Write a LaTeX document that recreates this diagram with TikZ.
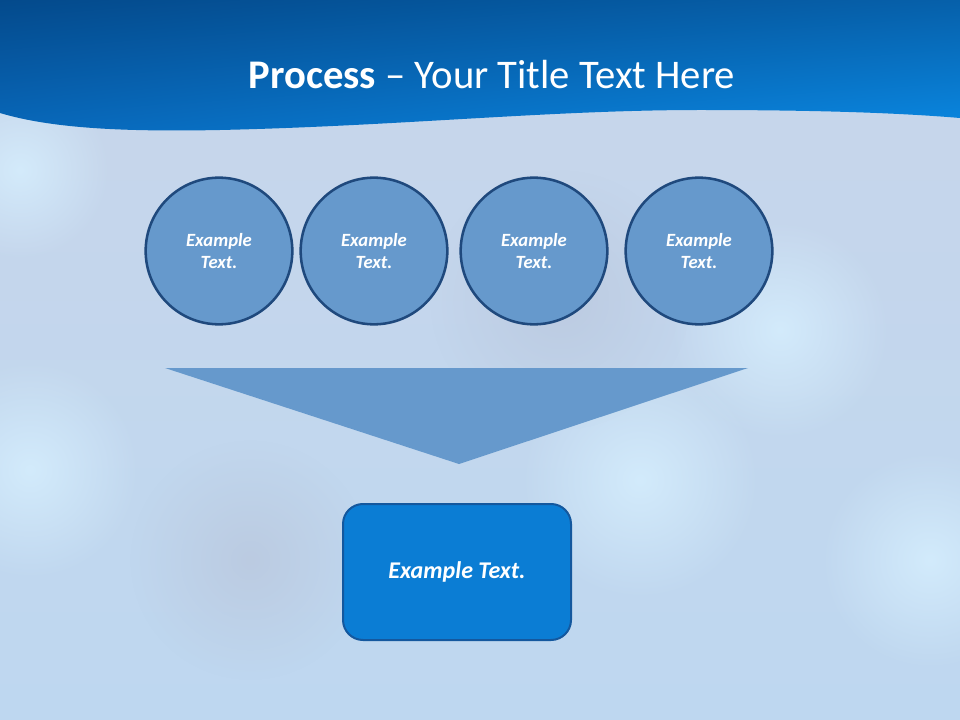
\documentclass[tikz,border=0pt]{standalone}
\usepackage{fontspec}
\setmainfont{Carlito}
\usetikzlibrary{fadings,shadings}

\definecolor{stepfill}{RGB}{102,153,204}
\definecolor{stepline}{RGB}{31,73,125}
\definecolor{resfill}{RGB}{11,125,212}
\definecolor{resline}{RGB}{20,88,158}
\definecolor{papertop}{RGB}{200,214,234}
\definecolor{paperbot}{RGB}{190,215,240}
\definecolor{glowlight}{RGB}{215,240,255}
\definecolor{glowgrey}{RGB}{186,200,222}
\definecolor{bandul}{RGB}{4,74,140}
\definecolor{bandur}{RGB}{6,96,170}
\definecolor{bandll}{RGB}{8,104,186}
\definecolor{bandlr}{RGB}{10,136,226}

\tikzset{every picture/.style={line width=0.75pt}}
\tikzset{
  stage/.style={circle, draw=stepline, line width=1.9pt, fill=stepfill, minimum size=110pt, inner sep=0pt,
    align=center, text=white, font=\fontsize{14}{17}\selectfont\bfseries\itshape},
  result/.style={rectangle, rounded corners=15pt, draw=resline, line width=1.5pt, fill=resfill,
    minimum width=171pt, minimum height=102pt, text=white, font=\fontsize{18}{22}\selectfont\bfseries\itshape},
  blob/.style={path fading=glow, fill=#1}
}
\tikzfading[name=glow, inner color=transparent!20, outer color=transparent!100]

\begin{document}
\begin{tikzpicture}[x=0.75pt,y=0.75pt,yscale=-1,xscale=1]
\path[use as bounding box] (0,0) rectangle (960,720);

%Background
\shade [top color=papertop, bottom color=paperbot] (0,0) rectangle (960,720);
\fill [blob=glowlight] (20,170) circle (90);
\fill [blob=glowlight] (30,470) circle (110);
\fill [blob=glowlight] (780,330) circle (110);
\fill [blob=glowlight] (640,480) circle (120);
\fill [blob=glowlight] (930,560) circle (110);
\fill [blob=glowgrey] (250,560) circle (120);
\fill [blob=glowgrey] (560,300) circle (130);

%Header band
\shade [upper left=bandul, upper right=bandur, lower left=bandll, lower right=bandlr]
  (0,0) -- (960,0) -- (960,118) .. controls (900,113) and (820,110) .. (700,110)
  .. controls (550,110) and (400,126) .. (220,130) .. controls (120,132) and (50,128) .. (0,113) -- cycle;

% Title
\node (title) at (492,75) [text=white, font=\fontsize{30.5}{36}\selectfont] {\textbf{Process} -- Your Title Text Here};

%Shape: Circles
\node (s1) at (219,251) [stage] {Example\\Text.};
\node (s2) at (374,251) [stage] {Example\\Text.};
\node (s3) at (534,251) [stage] {Example\\Text.};
\node (s4) at (699,251) [stage] {Example\\Text.};

%Shape: Triangle
\coordinate (tl) at (165,368);
\coordinate (tr) at (748,368);
\coordinate (tip) at (459,464);
\fill [stepfill] (tl) -- (tr) -- (tip) -- cycle;

%Shape: Rounded Rectangle
\node (res) at (457,572) [result] {Example Text.};

\end{tikzpicture}
\end{document}
